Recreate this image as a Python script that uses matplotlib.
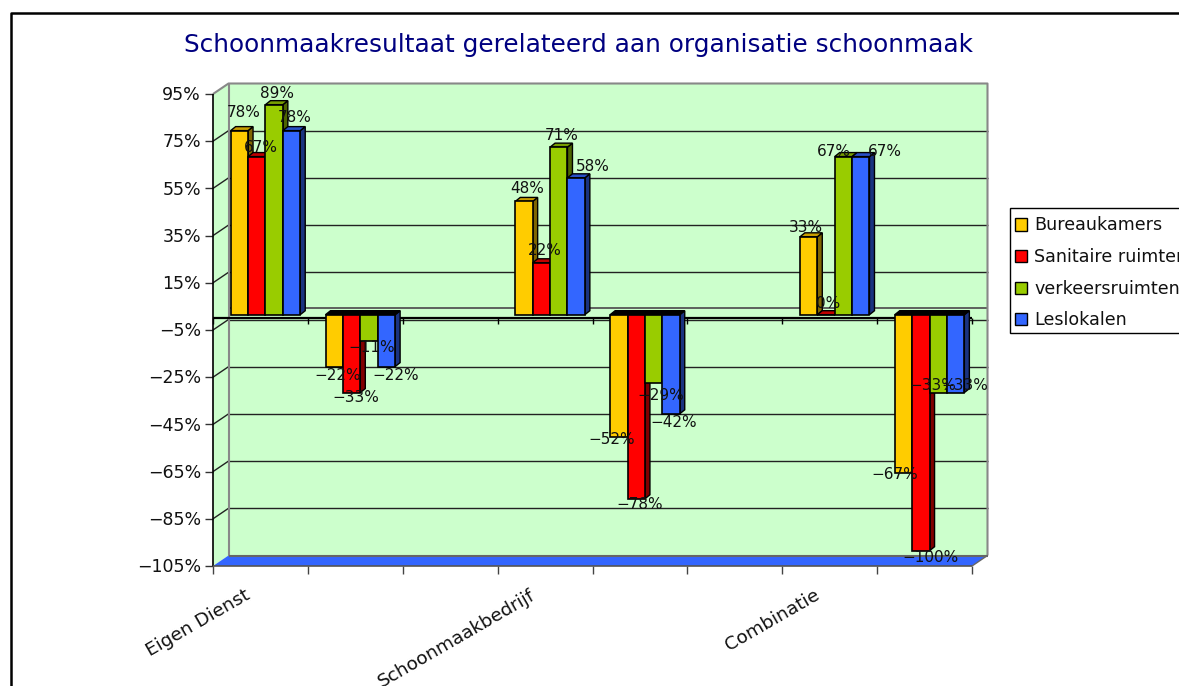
import matplotlib
matplotlib.use("Agg")
import matplotlib.pyplot as plt
from matplotlib.lines import Line2D
from matplotlib.patches import Patch, Rectangle

W, H = 1179, 686

title = "Schoonmaakresultaat gerelateerd aan organisatie schoonmaak"
groups = ["Eigen Dienst", "", "", "Schoonmaakbedrijf", "", "", "Combinatie", ""]
group_pos = [0, 1, 3, 4, 6, 7]
series_names = ["Bureaukamers", "Sanitaire ruimten", "verkeersruimten", "Leslokalen"]

bureaukamers = [78, -22, 48, -52, 33, -67]
sanitair = [67, -33, 22, -78, 0, -100]
verkeer = [89, -11, 71, -29, 67, -33]
leslokalen = [78, -22, 58, -42, 67, -33]
series = [bureaukamers, sanitair, verkeer, leslokalen]

y_ticks = [95, 75, 55, 35, 15, -5, -25, -45, -65, -85, -105]

colors = ["#FFCC00", "#FF0000", "#99CC00", "#3366FF"]
top_colors = ["#C89E00", "#C00000", "#779E00", "#2850C8"]
side_colors = ["#806600", "#800000", "#4D6600", "#1A3380"]

# label shift in pixels from the default place, per series and group
nudge_x = [[8, 7, 7, -3, 1, -5], [8, 8, 7, 7, 6, 14], [7, 7, 7, 11, -6, -1], [7, 13, 21, 7, 28, 13]]
nudge_y = [[7, -2, 2, 5, -2, 5], [-2, 2, 1, 1, 0, 0], [0, 0, 1, -5, -6, 14], [2, -2, 0, -2, -6, 14]]

fig = plt.figure(figsize=(W / 100, H / 100), dpi=100)
ax = fig.add_axes([213 / W, 1 - 566 / H, (972 - 213) / W, (566 - 94) / H])
ax.set_xlim(0, 8)
ax.set_ylim(-105, 95)
ax.axis("off")

px = 8 / (972 - 213)
py = 200 / (566 - 94)
wall_dx = 15.5 * px
wall_dy = 10.5 * py


def box(xs, ys, fc, ec="none", lw=0, z=1):
    ax.fill(xs, ys, facecolor=fc, edgecolor=ec, linewidth=lw, clip_on=False, zorder=z)


def line(xs, ys, color="black", lw=1.0, z=2):
    ax.plot(xs, ys, color=color, lw=lw, clip_on=False, zorder=z, solid_capstyle="butt")


# walls and floor
box([wall_dx, 8 + wall_dx, 8 + wall_dx, wall_dx], [-105 + wall_dy, -105 + wall_dy, 95 + wall_dy, 95 + wall_dy], "#CCFFCC")
box([0, wall_dx, wall_dx, 0], [-105, -105 + wall_dy, 95 + wall_dy, 95], "#CCFFCC")
box([0, 8, 8 + wall_dx, wall_dx], [-105, -105, -105 + wall_dy, -105 + wall_dy], "#3366FF", z=1.5)
for t in y_ticks:
    if t in (95, -105):
        continue
    line([0, wall_dx], [t, t + wall_dy], "#222222")
    line([wall_dx, 8 + wall_dx], [t + wall_dy, t + wall_dy], "#222222")
line([wall_dx, 8 + wall_dx], [wall_dy, wall_dy], "#555555", 1.3)
line([0, wall_dx, 8 + wall_dx, 8 + wall_dx], [95, 95 + wall_dy, 95 + wall_dy, -105 + wall_dy], "#888888", 1.5)
line([wall_dx, wall_dx], [95 + wall_dy, -105 + wall_dy], "#888888", 1.5)
line([wall_dx, 8 + wall_dx], [-105 + wall_dy, -105 + wall_dy], "#666666", 1.5)
line([8, 8 + wall_dx], [-105, -105 + wall_dy], "#666666")

# axes
line([0, 0], [-105, 95], "black", 1.2, 2.5)
line([0, 8], [-105, -105], "#555555", 1.2, 2.5)
line([0, 8], [0, 0], "black", 1.6, 2.5)
for t in y_ticks:
    line([-8 * px, 0], [t, t], "#333333", 1.0)
    ax.text(-12 * px, t - 1.2 * py, f"{t}%".replace("-", "\u2212"), ha="right", va="center", fontsize=12.5, color="#111111")
for i in range(9):
    line([i, i], [0, -6 * py], "black", 1.0)
    line([i, i], [-105, -105 - 8 * py], "#444444", 1.0)
for i, g in enumerate(groups):
    if g:
        ax.text(i + 0.5 - 16 * px, -105 - 20 * py, g, rotation=30, ha="right", va="top",
                rotation_mode="anchor", fontsize=13.3, color="#111111", clip_on=False)

# bars, front plane sits a little into the box
bar_w = 17.4 * px
fx, fy = 5 * px, 3.5 * py
dx, dy = 5 * px, 4 * py
z = 3.0
for g, pos in enumerate(group_pos):
    left = pos + 0.5 - 2 * bar_w
    for s, vals in enumerate(series):
        v = vals[g]
        x0 = left + s * bar_w + fx
        x1 = x0 + bar_w
        y0 = fy
        y1 = v + fy
        top = max(y0, y1)
        top_col = top_colors[s] if v >= 0 else "black"
        box([x1, x1 + dx, x1 + dx, x1], [y0, y0 + dy, y1 + dy, y1], side_colors[s], "black", 1.0, z)
        box([x0, x1, x1 + dx, x0 + dx], [top, top, top + dy, top + dy], top_col, "black", 1.0, z)
        box([x0, x1, x1, x0], [y0, y0, y1, y1], colors[s], "black", 1.2, z + 0.01)
        z += 0.02
for g, pos in enumerate(group_pos):
    left = pos + 0.5 - 2 * bar_w
    for s, vals in enumerate(series):
        v = vals[g]
        xc = left + (s + 0.5) * bar_w + fx + nudge_x[s][g] * px - 4 * px
        base = v + fy + (11 if v >= 0 else -7) * py
        ax.text(xc, base + nudge_y[s][g] * py, f"{v}%".replace("-", "\u2212"), ha="center", va="center",
                fontsize=11, color="#111111", clip_on=False, zorder=10)

# title
fig.text(578 / W, 1 - 45 / H, title, ha="center", va="center", fontsize=17.8, color="#000080")

# outer frame, runs off the picture on the right and bottom
fig.add_artist(Line2D([11 / W, 11 / W, 1], [0, 1 - 13 / H, 1 - 13 / H], color="black", lw=1.8))

# legend, its box also runs off the picture
fig.add_artist(Rectangle((1010 / W, 1 - 333 / H), 300 / W, 125 / H, transform=fig.transFigure,
                         facecolor="white", edgecolor="black", linewidth=1.0, zorder=1))
handles = [Patch(facecolor=c, edgecolor="black", linewidth=1.0) for c in colors]
fig.legend(handles, series_names, loc="upper left", bbox_to_anchor=(1015 / W, 1 - 216.5 / H),
           bbox_transform=fig.transFigure, fontsize=12.6, frameon=False, borderaxespad=0, borderpad=0,
           handlelength=0.7, handleheight=0.7, handletextpad=0.4, labelspacing=0.78, labelcolor="#111111")

fig.savefig("out.png", dpi=100)
